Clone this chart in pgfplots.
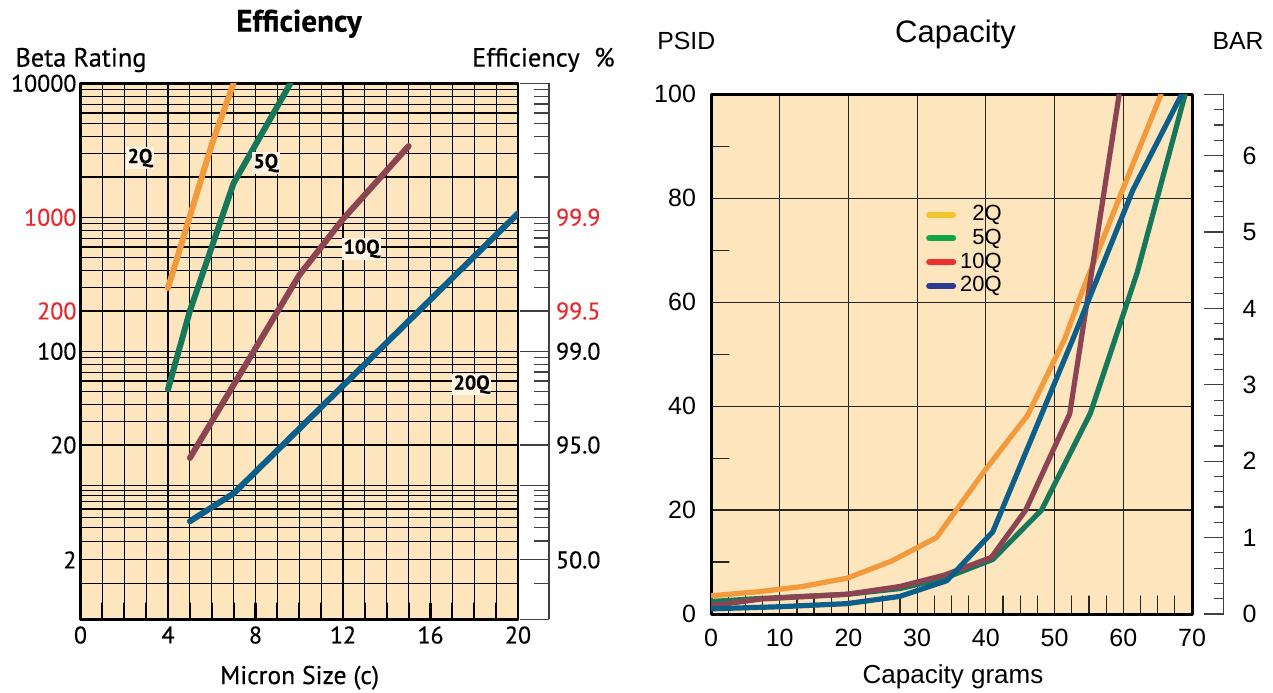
\documentclass[border=0pt]{standalone}
\usepackage{fontspec}
\setmainfont{PT Sans}[FakeBold=0.4]
\newfontfamily\helv{Liberation Sans}
\usepackage{pgfplots}
\pgfplotsset{compat=1.18}
\definecolor{bgc}{HTML}{FDE5BE}
\definecolor{corange}{HTML}{F39A3D}
\definecolor{cgreen}{HTML}{16775A}
\definecolor{cmaroon}{HTML}{8C4452}
\definecolor{cblue}{HTML}{0C5F8A}
\definecolor{effred}{HTML}{E62A2E}
\definecolor{lyellow}{HTML}{F2C52C}
\definecolor{lgreen}{HTML}{12A54A}
\definecolor{lred}{HTML}{EC3032}
\definecolor{lnavy}{HTML}{2C3B91}
\pgfplotsset{betatrafo/.style={
  y coord trafo/.code={\begingroup\pgfkeys{/pgf/fpu=true,/pgf/fpu/output format=fixed}%
    \pgfmathsetmacro\bL{ln(##1)*0.4342945}%
    \pgfmathparse{ifthenelse(\bL<1,1-(1-\bL)*0.796,\bL)}%
    \xdef\btmp{\pgfmathresult}\endgroup\let\pgfmathresult\btmp}}}
\begin{document}
\begin{tikzpicture}
\useasboundingbox (0,0) rectangle (636.5pt,-346pt);
% ---------------- Efficiency chart ----------------
\begin{axis}[
  at={(40.25pt,-309.65pt)}, anchor=south west, scale only axis,
  width=218.75pt, height=268pt,
  betatrafo,
  xmin=0, xmax=20, ymin=0.5544, ymax=10000,
  axis background/.style={fill=bgc},
  xtick={0,4,...,20},
  minor xtick={1,2,3,5,6,7,9,10,11,13,14,15,17,18,19},
  ytick={2,20,100,200,1000,10000},
  yticklabels={2,20,100,\textcolor{effred}{200},\textcolor{effred}{1000},10000},
  minor ytick={1.2,3,4,5,6,7,8,9,10,30,40,50,60,70,80,90,300,400,500,600,700,800,900,2000,3000,4000,5000,6000,7000,8000,9000},
  xmajorgrids, xminorgrids, ymajorgrids, yminorgrids,
  major grid style={black, line width=0.55pt},
  minor grid style={black, line width=0.55pt},
  xtick pos=bottom, ytick pos=left, tick align=inside,
  major tick length=8pt, minor tick length=8pt,
  x tick style={line width=1.1pt, black},
  y tick style={draw=none},
  axis line style={line width=1.3pt},
  /pgf/number format/assume math mode=true,
  ticklabel style={font=\fontsize{12}{12}\selectfont},
  yticklabel style={xshift=1.5pt},
  line cap=round, line join=round,
]
\addplot[corange, line width=3pt] coordinates {(4,297) (6,3500) (7,10000)};
\addplot[cgreen, line width=3pt] coordinates {(4,52) (5,200) (7,1800) (9.6,10000)};
\addplot[cmaroon, line width=3pt] coordinates {(5,16) (10,370) (12,970) (15,3400)};
\addplot[cblue, line width=3pt] coordinates {(5,4.6) (7,8.4) (20,1070)};
\node[font=\bfseries\fontsize{10}{10}\selectfont, fill=bgc!40!white, inner sep=0.8pt] at (axis cs:2.72,2770) {2Q};
\node[font=\bfseries\fontsize{10}{10}\selectfont, fill=bgc!40!white, inner sep=0.8pt] at (axis cs:8.47,2540) {5Q};
\node[font=\bfseries\fontsize{10}{10}\selectfont, fill=bgc!40!white, inner sep=0.8pt] at (axis cs:12.85,582) {10Q};
\node[font=\bfseries\fontsize{10}{10}\selectfont, fill=bgc!40!white, inner sep=0.8pt] at (axis cs:17.88,56.5) {20Q};
\end{axis}
% efficiency % scale
\begin{axis}[
  at={(260pt,-309.65pt)}, anchor=south west, scale only axis,
  width=14.5pt, height=268pt,
  betatrafo,
  xmin=0, xmax=1, ymin=0.5544, ymax=10000,
  axis x line=none, axis y line=right, axis line style={-, black!75, line width=0.6pt},
  ytick={2,20,100,200,1000},
  yticklabels={50.0,95.0,99.0,\textcolor{effred}{99.5},\textcolor{effred}{99.9}},
  extra y ticks={0.5544,10,10000},
  extra y tick labels={},
  minor ytick={1.2,3,4,5,6,7,8,9,30,40,50,60,70,80,90,300,400,500,600,700,800,900,2000,3000,4000,5000,6000,7000,8000,9000},
  tick align=inside, major tick length=14.5pt, minor tick length=7.5pt,
  tick style={black!75, line width=0.6pt},
  yticklabel style={font=\fontsize{12}{12}\selectfont},
]
\end{axis}
\node[font=\bfseries\fontsize{15.5}{15}\selectfont, anchor=base, inner sep=0] at (149.5pt,-15.8pt) {Efficiency};
\node[font=\fontsize{13.2}{13}\selectfont, anchor=base west, inner sep=0] at (7.5pt,-33.3pt) {Beta Rating};
\node[font=\fontsize{13.2}{13}\selectfont, anchor=base east, inner sep=0] at (307.5pt,-33.3pt) {Efficiency\hspace{0.55em}\%};
\node[font=\fontsize{12.8}{12.8}\selectfont, anchor=base, inner sep=0] at (149.8pt,-342pt) {Micron Size (c)};
% ---------------- Capacity chart ----------------
\begin{axis}[
  at={(355.5pt,-307pt)}, anchor=south west, scale only axis,
  width=240.5pt, height=259.85pt,
  xmin=0, xmax=70, ymin=0, ymax=100,
  axis background/.style={fill=bgc},
  xtick={0,10,...,70}, ytick={0,20,...,100},
  minor xtick={2.5,5,7.5,12.5,15,17.5,22.5,25,27.5,32.5,35,37.5,42.5,45,47.5,52.5,55,57.5,62.5,65,67.5},
  minor ytick={10,30,50,70,90},
  xmajorgrids, ymajorgrids,
  major grid style={black!85, line width=0.6pt},
  xtick pos=bottom, ytick pos=left, tick align=inside,
  major tick length=0pt, minor tick length=9pt,
  minor tick style={black!85, line width=0.6pt},
  axis line style={line width=1.5pt},
  /pgf/number format/assume math mode=true,
  ticklabel style={font=\helv\fontsize{12.5}{12.5}\selectfont},
  xticklabel style={yshift=-4pt},
  yticklabel style={xshift=-4pt},
  line cap=round, line join=round,
  legend style={at={(0.434,0.80)}, anchor=north west, draw=none, fill=none,
    font=\helv\fontsize{11}{11}\selectfont, row sep=0pt,
    nodes={inner ysep=1.35pt}},
  legend cell align=right,
  legend image code/.code={\draw[#1, line width=3pt, line cap=round] (0pt,0pt) -- (12pt,0pt);},
]
\addplot[corange, line width=2.6pt, forget plot] coordinates {(0,3.5) (7,4.3) (13.3,5.3) (19.8,6.9) (26.3,10.2) (32.8,14.7) (39.9,27.7) (46.1,38.3) (51.5,53) (54,62) (59.4,80) (65.5,100)};
\addplot[cgreen, line width=2.6pt, forget plot] coordinates {(0,2.4) (6,2.9) (19.8,3.8) (27.5,4.9) (34,6.9) (41,10.5) (48.1,20) (55.2,38.6) (62,65.6) (69,100)};
\addplot[cmaroon, line width=2.6pt, forget plot] coordinates {(0,1.6) (7.4,2.9) (19.8,3.8) (27.5,5.3) (34,7.5) (40.8,10.9) (45.8,20) (52.2,38.5) (59.4,100)};
\addplot[cblue, line width=2.6pt, forget plot] coordinates {(0,1.0) (10,1.4) (19.8,2.0) (27.5,3.4) (34.3,6.4) (41,15.8) (52.6,52.7) (61.4,81.6) (68.5,100)};
\addlegendimage{lyellow}\addlegendentry{2Q}
\addlegendimage{lgreen}\addlegendentry{5Q}
\addlegendimage{lred}\addlegendentry{10Q}
\addlegendimage{lnavy}\addlegendentry{20Q}
\end{axis}
% BAR scale
\begin{axis}[
  at={(601.8pt,-307pt)}, anchor=south west, scale only axis,
  width=10pt, height=259.85pt,
  xmin=0, xmax=1, ymin=0, ymax=6.8027,
  axis x line=none, axis y line=right, axis line style={-, black!75, line width=0.6pt},
  ytick={0,...,6},
  extra y ticks={6.8}, extra y tick labels={},
  minor ytick={0.2,0.4,...,6.6},
  tick align=inside, major tick length=10pt, minor tick length=5pt,
  tick style={black!75, line width=0.6pt},
  /pgf/number format/assume math mode=true,
  yticklabel style={font=\helv\fontsize{12.5}{12.5}\selectfont, xshift=6pt},
]
\end{axis}
\node[font=\helv\fontsize{15.5}{15.5}\selectfont, anchor=base, inner sep=0] at (477.75pt,-21.3pt) {Capacity};
\node[font=\helv\fontsize{12.4}{12.4}\selectfont, anchor=base west, inner sep=0] at (328.5pt,-24.7pt) {PSID};
\node[font=\helv\fontsize{12.4}{12.4}\selectfont, anchor=base east, inner sep=0] at (632pt,-24.7pt) {BAR};
\node[font=\helv\fontsize{13}{13}\selectfont, anchor=base, inner sep=0] at (476.5pt,-341.7pt) {Capacity grams};
\end{tikzpicture}
\end{document}
